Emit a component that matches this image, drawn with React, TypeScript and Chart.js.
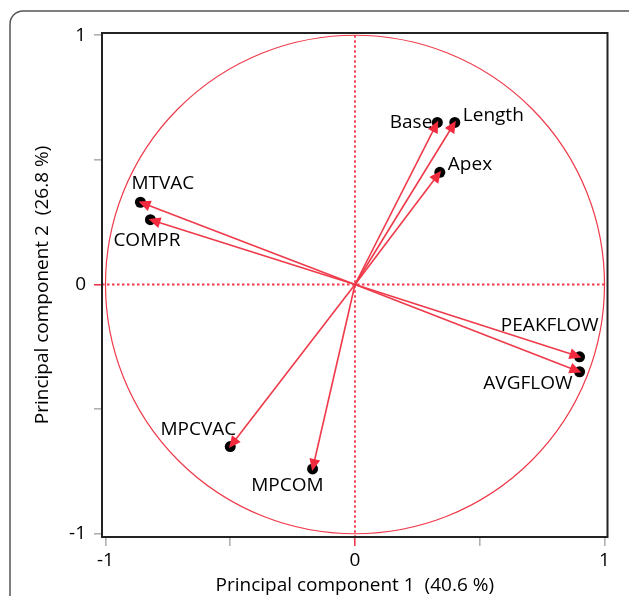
import React, { useEffect, useRef } from "react";
import { Chart, registerables } from "chart.js";

Chart.register(...registerables);

// ---- data ----
const variables = ["Base", "Length", "Apex", "MTVAC", "COMPR", "MPCVAC", "MPCOM", "PEAKFLOW", "AVGFLOW"];
const pc1 = [0.33, 0.4, 0.34, -0.86, -0.82, -0.5, -0.17, 0.9, 0.9];
const pc2 = [0.65, 0.65, 0.45, 0.33, 0.26, -0.65, -0.74, -0.29, -0.35];
const tickValues = [-1, -0.5, 0, 0.5, 1];
const labeledTicks = [-1, 0, 1];
const xTitle = "Principal component 1  (40.6 %)";
const yTitle = "Principal component 2  (26.8 %)";

// ---- label placement (pixel offsets from the marker) ----
const labelPlacement: Record<string, { dx: number; dy: number; align: CanvasTextAlign }> = {
  Base: { dx: -5, dy: 0, align: "right" },
  Length: { dx: 8, dy: -7, align: "left" },
  Apex: { dx: 8, dy: -8, align: "left" },
  MTVAC: { dx: -9, dy: -19, align: "left" },
  COMPR: { dx: -37, dy: 21, align: "left" },
  MPCVAC: { dx: 6, dy: -17, align: "right" },
  MPCOM: { dx: 11, dy: 17, align: "right" },
  PEAKFLOW: { dx: 19, dy: -31, align: "right" },
  AVGFLOW: { dx: -7, dy: 12, align: "right" },
};

const RED = "#ee3a4a";
const FONT = "'Open Sans', 'Noto Sans', sans-serif";
const FS = 19;

const pcaPlugin = {
  id: "pcaDecor",
  beforeDraw(chart: any) {
    const ctx = chart.ctx;
    ctx.save();
    ctx.strokeStyle = "#555";
    ctx.lineWidth = 1.5;
    ctx.beginPath();
    (ctx as any).roundRect(10, 11, 640, 620, 13);
    ctx.stroke();
    ctx.restore();
  },
  beforeDatasetsDraw(chart: any) {
    const ctx = chart.ctx;
    const xs = chart.scales.x;
    const ys = chart.scales.y;
    const cx = xs.getPixelForValue(0);
    const cy = ys.getPixelForValue(0);
    const rx = Math.abs(xs.getPixelForValue(1) - cx);
    const ry = Math.abs(ys.getPixelForValue(1) - cy);
    ctx.save();
    // unit circle
    ctx.strokeStyle = RED;
    ctx.lineWidth = 1.2;
    ctx.beginPath();
    ctx.ellipse(cx, cy, rx, ry, 0, 0, Math.PI * 2);
    ctx.stroke();
    // dotted reference lines
    ctx.setLineDash([2.5, 2.5]);
    ctx.lineWidth = 1.8;
    ctx.beginPath();
    ctx.moveTo(chart.chartArea.left, cy);
    ctx.lineTo(xs.getPixelForValue(1), cy);
    ctx.moveTo(cx, ys.getPixelForValue(1));
    ctx.lineTo(cx, chart.chartArea.bottom);
    ctx.stroke();
    ctx.restore();
  },
  afterDatasetsDraw(chart: any) {
    const ctx = chart.ctx;
    const xs = chart.scales.x;
    const ys = chart.scales.y;
    const ox = xs.getPixelForValue(0);
    const oy = ys.getPixelForValue(0);
    ctx.save();
    variables.forEach((name, i) => {
      const px = xs.getPixelForValue(pc1[i]);
      const py = ys.getPixelForValue(pc2[i]);
      const len = Math.hypot(px - ox, py - oy);
      const ux = (px - ox) / len;
      const uy = (py - oy) / len;
      // black marker
      ctx.fillStyle = "#000";
      ctx.beginPath();
      ctx.arc(px, py, 5.5, 0, Math.PI * 2);
      ctx.fill();
      // arrow head
      const tipx = px + ux * 2;
      const tipy = py + uy * 2;
      const bx = px - ux * 10;
      const by = py - uy * 10;
      const hw = 5.5;
      ctx.fillStyle = "#f22a3e";
      ctx.beginPath();
      ctx.moveTo(tipx, tipy);
      ctx.lineTo(bx - uy * hw, by + ux * hw);
      ctx.lineTo(bx + uy * hw, by - ux * hw);
      ctx.closePath();
      ctx.fill();
      // label
      const pl = labelPlacement[name];
      ctx.fillStyle = "#000";
      ctx.font = `${FS}px ${FONT}`;
      ctx.textAlign = pl.align;
      ctx.textBaseline = "middle";
      ctx.fillText(name, px + pl.dx, py + pl.dy);
    });
    // plot frame
    const a = chart.chartArea;
    ctx.strokeStyle = "#222";
    ctx.lineWidth = 2;
    ctx.strokeRect(a.left, a.top, a.right - a.left, a.bottom - a.top);
    ctx.restore();
  },
};

export default function App() {
  const ref = useRef<HTMLCanvasElement | null>(null);
  useEffect(() => {
    document.body.style.margin = "0";
    if (!ref.current) return;
    const datasets = variables.map((name, i) => ({
      label: name,
      data: [
        { x: 0, y: 0 },
        { x: pc1[i], y: pc2[i] },
      ],
      showLine: true,
      borderColor: RED,
      borderWidth: 1.6,
      pointRadius: 0,
      pointHoverRadius: 0,
    }));
    const tickColor = (c: any) => (c.tick && c.tick.value === 0 ? RED : "#b0b0b0");
    const tickLabel = (v: any) => (labeledTicks.includes(Number(v)) ? String(v) : "");
    const chart = new Chart(ref.current, {
      type: "scatter",
      data: { datasets },
      plugins: [pcaPlugin],
      options: {
        animation: false,
        responsive: false,
        devicePixelRatio: 1,
        layout: { padding: { left: 0, top: 33, right: 21.5, bottom: 0 } },
        plugins: { legend: { display: false }, tooltip: { enabled: false } },
        scales: {
          x: {
            type: "linear",
            min: -1.014,
            max: 1.012,
            afterBuildTicks: (s: any) => {
              s.ticks = tickValues.map((v) => ({ value: v }));
            },
            afterFit: (s: any) => {
              s.height = 59;
            },
            border: { display: false },
            grid: { drawOnChartArea: false, drawTicks: true, tickLength: 9, color: tickColor, lineWidth: 1.6 },
            ticks: { color: "#000", font: { size: FS, family: FONT }, padding: 3, callback: tickLabel, maxRotation: 0 },
            title: { display: true, text: xTitle, color: "#000", font: { size: FS, family: FONT }, padding: { top: 0, bottom: -1 } },
          },
          y: {
            type: "linear",
            min: -1.013,
            max: 1.009,
            afterBuildTicks: (s: any) => {
              s.ticks = tickValues.map((v) => ({ value: v }));
            },
            afterFit: (s: any) => {
              s.width = 102;
            },
            border: { display: false },
            grid: { drawOnChartArea: false, drawTicks: true, tickLength: 8, color: tickColor, lineWidth: 1.6 },
            ticks: { color: "#000", font: { size: FS, family: FONT }, padding: 8, callback: tickLabel },
            title: { display: true, text: yTitle, color: "#000", font: { size: FS, family: FONT }, padding: { top: 31, bottom: 0 } },
          },
        },
      },
    });
    return () => chart.destroy();
  }, []);
  return <canvas ref={ref} width={629} height={596} style={{ display: "block" }} />;
}
